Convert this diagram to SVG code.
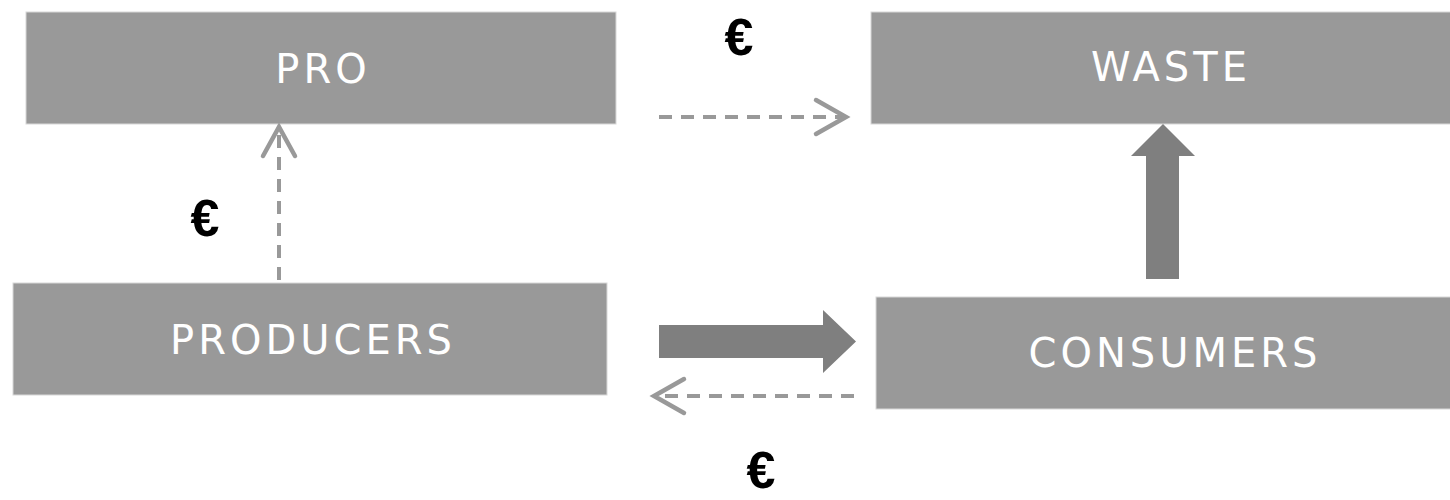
<svg xmlns="http://www.w3.org/2000/svg" width="1450" height="500" viewBox="0 0 1450 500">
<defs>
<style>
.box{fill:#999999;stroke:#d8d8d8;stroke-width:1}
.lbl{font-family:"DejaVu Sans",sans-serif;font-size:40px;fill:#ffffff;text-anchor:middle;letter-spacing:4px}
.eur{font-family:"Liberation Sans",Arial,sans-serif;font-weight:bold;font-size:52px;fill:#000000;text-anchor:middle}
.dash{fill:none;stroke:#999999;stroke-width:4;stroke-dasharray:13 9}
.head{fill:none;stroke:#999999;stroke-width:4.5;stroke-linecap:round;stroke-linejoin:miter}
.fat{fill:#7f7f7f}
</style>
</defs>
<rect width="1450" height="500" fill="#ffffff"/>
<g id="pro"><rect class="box" x="26" y="12" width="590" height="112"/><text class="lbl" x="323" y="83">PRO</text></g>
<g id="waste"><rect class="box" x="871" y="12" width="590" height="112"/><text class="lbl" x="1171" y="81">WASTE</text></g>
<g id="producers"><rect class="box" x="13" y="283" width="594" height="112"/><text class="lbl" x="313" y="354">PRODUCERS</text></g>
<g id="consumers"><rect class="box" x="876" y="297" width="590" height="112"/><text class="lbl" x="1175" y="367">CONSUMERS</text></g>
<g id="connectors">
<line class="dash" x1="659" y1="117" x2="843" y2="117"/>
<polyline class="head" points="816,100 846,117 816,134"/>
<line class="dash" x1="279" y1="280" x2="279" y2="130"/>
<polyline class="head" points="263,156 279,127 295,156"/>
<line class="dash" x1="854" y1="396" x2="656" y2="396"/>
<polyline class="head" points="684,379 654,396 684,413"/>
<polygon class="fat" points="659,325 823,325 823,310 856,341.5 823,373 823,358 659,358"/>
<polygon class="fat" points="1146,279 1146,156 1131,156 1163,124 1195,156 1179,156 1179,279"/>
</g>
<text class="eur" x="739" y="55">€</text>
<text class="eur" x="205" y="236">€</text>
<text class="eur" x="761" y="488">€</text>
</svg>
